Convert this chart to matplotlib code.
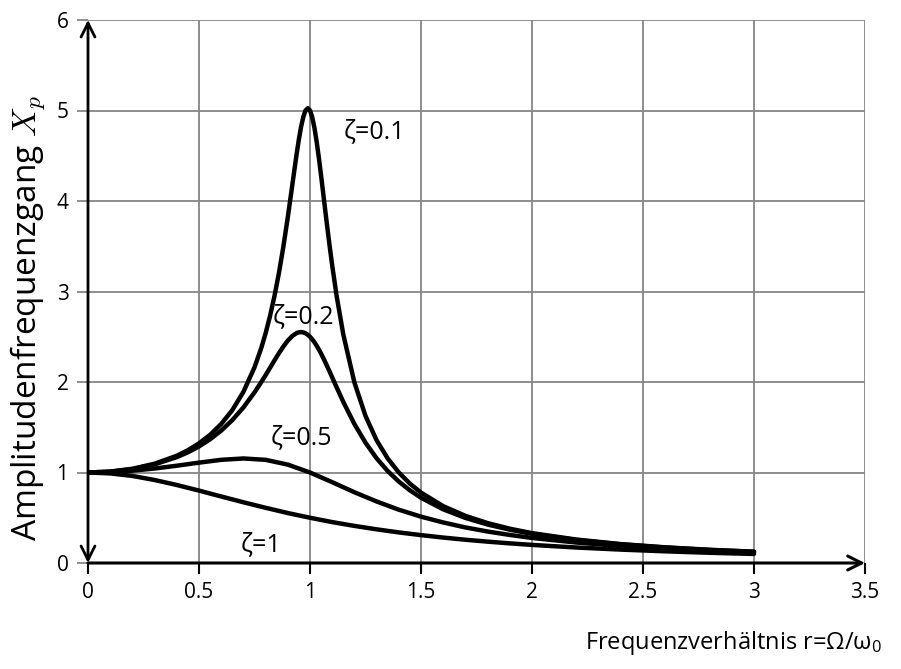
import matplotlib
matplotlib.use('Agg')
import matplotlib.pyplot as plt

# Frequenzverhaeltnis r
r_fine = [0, 0.1, 0.2, 0.3, 0.4, 0.45, 0.5, 0.55, 0.6, 0.65, 0.7, 0.75, 0.78,
          0.8, 0.82, 0.84, 0.86, 0.88, 0.9, 0.92, 0.94, 0.95, 0.96, 0.97, 0.98,
          0.99, 1.0, 1.01, 1.02, 1.03, 1.04, 1.05, 1.06, 1.07, 1.08, 1.09, 1.1,
          1.12, 1.15, 1.2, 1.25, 1.3, 1.35, 1.4, 1.45, 1.5, 1.6, 1.7, 1.8, 1.9,
          2.0, 2.2, 2.4, 2.6, 2.8, 3.0]
r_coarse = [0, 0.1, 0.2, 0.3, 0.4, 0.5, 0.6, 0.7, 0.8, 0.9, 1.0, 1.1, 1.2, 1.3,
            1.4, 1.5, 1.6, 1.7, 1.8, 1.9, 2.0, 2.2, 2.4, 2.6, 2.8, 3.0]

x_z01 = [1.0, 1.010, 1.041, 1.097, 1.185, 1.246, 1.322, 1.416, 1.536, 1.689,
         1.891, 2.162, 2.372, 2.538, 2.730, 2.950, 3.204, 3.495, 3.821, 4.172,
         4.523, 4.683, 4.822, 4.931, 5.001, 5.025, 5.0, 4.926, 4.809, 4.655,
         4.476, 4.279, 4.075, 3.869, 3.668, 3.473, 3.288, 2.950, 2.525, 1.995,
         1.625, 1.356, 1.155, 1.0, 0.877, 0.778, 0.628, 0.521, 0.441, 0.379,
         0.330, 0.259, 0.209, 0.173, 0.146, 0.125]
x_z02 = [1.0, 1.009, 1.038, 1.090, 1.170, 1.223, 1.288, 1.367, 1.463, 1.579,
         1.719, 1.885, 1.997, 2.076, 2.157, 2.239, 2.318, 2.392, 2.457, 2.508,
         2.541, 2.549, 2.552, 2.548, 2.538, 2.522, 2.5, 2.472, 2.439, 2.401,
         2.359, 2.313, 2.264, 2.213, 2.160, 2.106, 2.051, 1.941, 1.780, 1.536,
         1.329, 1.157, 1.016, 0.900, 0.803, 0.721, 0.593, 0.498, 0.425, 0.368,
         0.322, 0.254, 0.206, 0.171, 0.144, 0.124]
x_z05 = [1.0, 1.005, 1.020, 1.044, 1.075, 1.109, 1.140, 1.155, 1.140, 1.087,
         1.0, 0.893, 0.782, 0.680, 0.589, 0.512, 0.448, 0.393, 0.348, 0.310,
         0.277, 0.226, 0.188, 0.158, 0.135, 0.117]
x_z1 = [1.0, 0.990, 0.962, 0.917, 0.862, 0.800, 0.735, 0.671, 0.610, 0.552,
        0.500, 0.452, 0.410, 0.372, 0.338, 0.308, 0.281, 0.257, 0.236, 0.217,
        0.200, 0.171, 0.148, 0.129, 0.113, 0.100]

labels = ['ζ=0.1', 'ζ=0.2', 'ζ=0.5', 'ζ=1']
label_pos = [(1.29, 4.76), (0.97, 2.72), (0.96, 1.38), (0.78, 0.20)]

plt.rcParams['font.family'] = ['Open Sans', 'DejaVu Sans']
plt.rcParams['mathtext.fontset'] = 'cm'
plt.rcParams['mathtext.rm'] = 'Open Sans'
plt.rcParams['mathtext.it'] = 'Open Sans:italic'

fig = plt.figure(figsize=(9.01, 6.69), dpi=100)
ax = fig.add_axes([88/901, 1-563/669, (865-88)/901, (563-20)/669])

for xs, ys in [(r_fine, x_z01), (r_fine, x_z02), (r_coarse, x_z05), (r_coarse, x_z1)]:
    ax.plot(xs, ys, color='black', lw=3.2, solid_capstyle='round',
            solid_joinstyle='round', zorder=3)

for t, (px, py) in zip(labels, label_pos):
    ax.text(px, py, t, ha='center', va='center', fontsize=18)

ax.set_xlim(0, 3.5)
ax.set_ylim(0, 6)
ax.set_xticks([0, 0.5, 1, 1.5, 2, 2.5, 3, 3.5])
ax.set_xticklabels(['0', '0.5', '1', '1.5', '2', '2.5', '3', '3.5'])
ax.set_yticks(range(7))
ax.grid(True, color='#868686', lw=1.3)
ax.set_axisbelow(True)
for s in ax.spines.values():
    s.set_visible(False)
ax.tick_params(axis='x', length=8, width=1.5, color='black', labelsize=15, pad=6)
ax.tick_params(axis='y', length=8, width=1.3, color='#868686', labelsize=15, pad=6)

# Achsen mit Pfeilen
ax.annotate('', xy=(3.5, 0), xytext=(0, 0), annotation_clip=False,
            arrowprops=dict(arrowstyle='->', lw=2.2, color='black',
                            mutation_scale=25, shrinkA=0, shrinkB=0))
ax.annotate('', xy=(0, 6), xytext=(0, 0), annotation_clip=False,
            arrowprops=dict(arrowstyle='<->', lw=2, color='black',
                            mutation_scale=25, shrinkA=0, shrinkB=0))

fig.text(882/901, 1-643/669, 'Frequenzverhältnis r=Ω/ω$_0$', ha='right', va='center',
         fontsize=17, math_fontfamily='custom')
fig.text(28/901, 1-318/669, 'Amplitudenfrequenzgang $X_p$', ha='center', va='center',
         rotation=90, fontsize=24)

plt.savefig('out.png', dpi=100)
